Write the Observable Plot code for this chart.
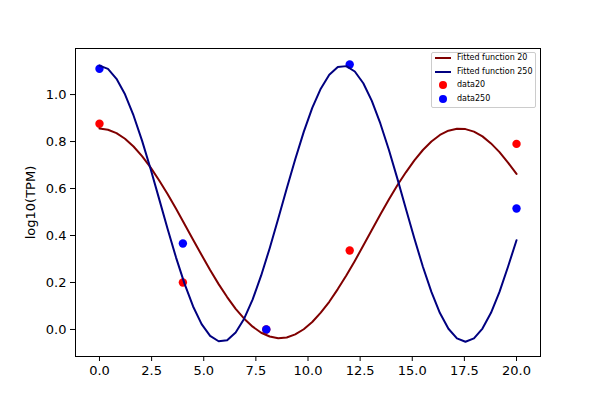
<!DOCTYPE html>
<html>
<head>
<meta charset="utf-8">
<script src="https://cdn.jsdelivr.net/npm/d3@7"></script>
<script src="https://cdn.jsdelivr.net/npm/@observablehq/plot@0.6"></script>
<style>
  html, body { margin: 0; padding: 0; background: white; }
  #wrap { position: relative; width: 600px; height: 400px; font-family: "DejaVu Sans", sans-serif; }
  #legend { position: absolute; left: 431px; top: 52px; width: 103px; height: 54px;
            border: 1px solid #cccccc; border-radius: 2px; background: rgba(255,255,255,0.8);
            font-size: 8px; color: black; }
  .row { position: absolute; left: 0; height: 10px; line-height: 10px; width: 100%; }
  .sw-line { position: absolute; left: 3px; top: 4px; width: 16px; height: 2px; }
  .sw-dot { position: absolute; left: 6.5px; top: 1px; width: 8px; height: 8px; border-radius: 50%; }
  .lbl { position: absolute; left: 25px; top: 0; white-space: nowrap; }
</style>
</head>
<body>
<div id="wrap">
  <div id="chart"></div>
  <div id="legend"></div>
</div>
<script>
// sampled x grid of the fitted curves
const curveX = [0, 0.408, 0.816, 1.224, 1.633, 2.041, 2.449, 2.857, 3.265, 3.673,
  4.082, 4.490, 4.898, 5.306, 5.714, 6.122, 6.531, 6.939, 7.347, 7.755,
  8.163, 8.571, 8.980, 9.388, 9.796, 10.204, 10.612, 11.020, 11.429, 11.837,
  12.245, 12.653, 13.061, 13.469, 13.878, 14.286, 14.694, 15.102, 15.510, 15.918,
  16.327, 16.735, 17.143, 17.551, 17.959, 18.367, 18.776, 19.184, 19.592, 20];

// Fitted function 20
const fit20 = [0.855, 0.850, 0.836, 0.812, 0.779, 0.738, 0.690, 0.635, 0.577, 0.514,
  0.448, 0.382, 0.317, 0.253, 0.193, 0.138, 0.088, 0.046, 0.012, -0.014,
  -0.030, -0.037, -0.034, -0.021, 0.001, 0.032, 0.072, 0.118, 0.172, 0.230,
  0.292, 0.357, 0.423, 0.489, 0.553, 0.614, 0.669, 0.720, 0.764, 0.800,
  0.828, 0.846, 0.854, 0.853, 0.842, 0.822, 0.792, 0.755, 0.710, 0.662];

// Fitted function 250
const fit250 = [1.123, 1.109, 1.067, 1.001, 0.911, 0.804, 0.684, 0.557, 0.429, 0.306,
  0.194, 0.098, 0.023, -0.027, -0.050, -0.046, -0.013, 0.046, 0.128, 0.230,
  0.346, 0.471, 0.600, 0.725, 0.841, 0.943, 1.025, 1.084, 1.117, 1.121,
  1.098, 1.048, 0.973, 0.877, 0.765, 0.642, 0.514, 0.387, 0.267, 0.160,
  0.070, 0.003, -0.038, -0.052, -0.038, 0.004, 0.071, 0.160, 0.267, 0.380];

// measured data
const times = [0, 4, 8, 12, 20];
const data20 = [0.876, 0.200, 0.000, 0.336, 0.790];
const data250 = [1.110, 0.366, 0.000, 1.128, 0.515];

const xTicks = [0, 2.5, 5, 7.5, 10, 12.5, 15, 17.5, 20];
const yTicks = [0, 0.2, 0.4, 0.6, 0.8, 1.0];

const legendLabels = ["Fitted function 20", "Fitted function 250", "data20", "data250"];
const colors = {fit20: "#800000", fit250: "#000080", data20: "#ff0000", data250: "#0000ff"};

const curve20 = curveX.map((x, i) => ({x, y: fit20[i]}));
const curve250 = curveX.map((x, i) => ({x, y: fit250[i]}));
const pts20 = times.map((t, i) => ({t, v: data20[i]}));
const pts250 = times.map((t, i) => ({t, v: data250[i]}));

const chart = Plot.plot({
  width: 600,
  height: 400,
  marginLeft: 75, marginRight: 60, marginTop: 48, marginBottom: 44,
  style: {fontFamily: "DejaVu Sans, sans-serif", fontSize: "13px", color: "black", background: "white", overflow: "visible"},
  x: {domain: [-1.15, 21.15]},
  y: {domain: [-0.115, 1.196]},
  marks: [
    Plot.dot(pts20, {x: "t", y: "v", r: 4.2, fill: colors.data20, stroke: "none"}),
    Plot.dot(pts250, {x: "t", y: "v", r: 4.2, fill: colors.data250, stroke: "none"}),
    Plot.line(curve20, {x: "x", y: "y", stroke: colors.fit20, strokeWidth: 2}),
    Plot.line(curve250, {x: "x", y: "y", stroke: colors.fit250, strokeWidth: 2}),
    Plot.frame({stroke: "black", strokeWidth: 1}),
    Plot.axisX({ticks: xTicks, tickFormat: d => d.toFixed(1), tickSize: 5, tickPadding: 4, label: null}),
    Plot.axisY({ticks: yTicks, tickFormat: d => d.toFixed(1), tickSize: 5, tickPadding: 4,
      label: "log10(TPM)", labelAnchor: "center", labelOffset: 50, labelArrow: false})
  ]
});
document.getElementById("chart").appendChild(chart);

// legend
const legend = document.getElementById("legend");
const rowTops = [0, 13.5, 27, 40.5];
const legendColors = [colors.fit20, colors.fit250, colors.data20, colors.data250];
legendLabels.forEach((label, i) => {
  const row = document.createElement("div");
  row.className = "row";
  row.style.top = rowTops[i] + "px";
  const sw = document.createElement("span");
  sw.className = i < 2 ? "sw-line" : "sw-dot";
  sw.style.background = legendColors[i];
  const tx = document.createElement("span");
  tx.className = "lbl";
  tx.textContent = label;
  row.appendChild(sw);
  row.appendChild(tx);
  legend.appendChild(row);
});
</script>
</body>
</html>
